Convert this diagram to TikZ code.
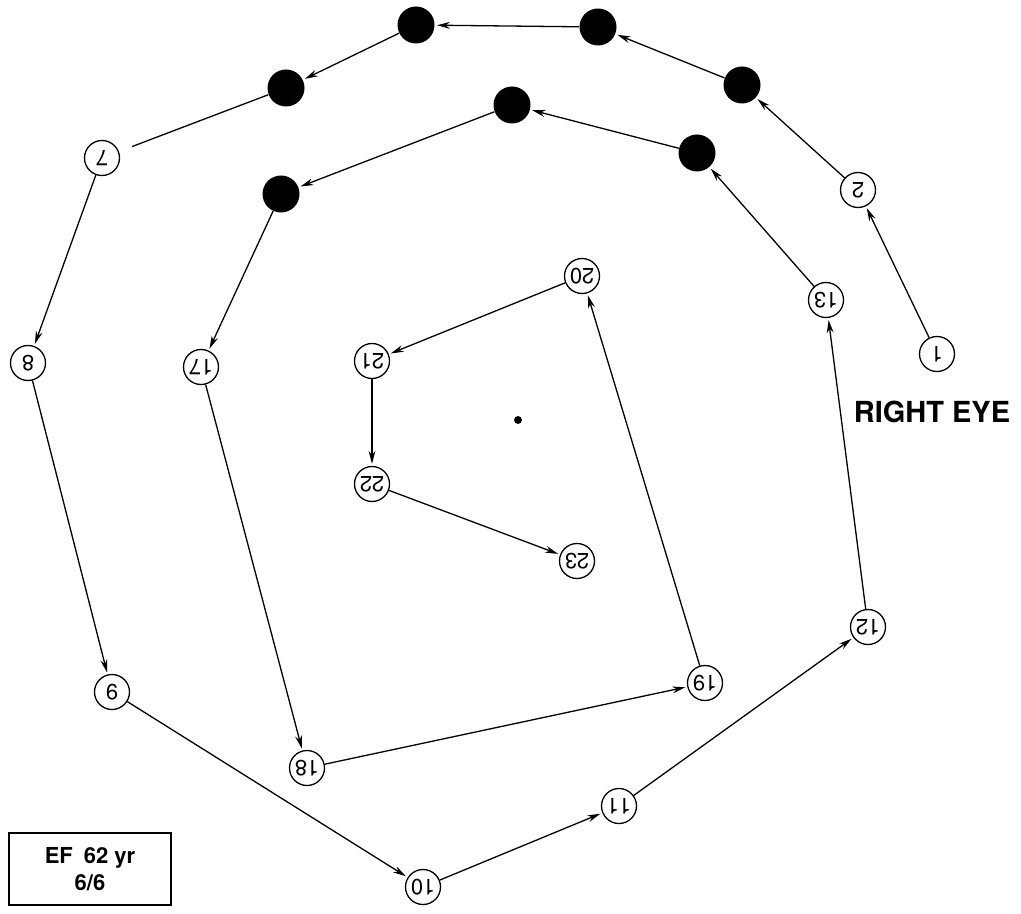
\documentclass[tikz,border=0pt]{standalone}
\usepackage{fontspec}
\setmainfont{TeX Gyre Heros}
\usetikzlibrary{arrows.meta}
\begin{document}
\begin{tikzpicture}[x=0.5pt, y=-0.5pt, >={Stealth[length=6.5pt,width=3.4pt]},
  pt/.style={circle, draw, line width=0.65pt, minimum size=17.5pt, inner sep=0pt,
    font=\fontsize{11}{12}\selectfont, rotate=180},
  spot/.style={circle, fill=black, minimum size=18.5pt, inner sep=0pt},
  link/.style={->, line width=0.65pt, shorten >=1pt}]
  \useasboundingbox (0,0) rectangle (1021,914);
  % 外側の輪
  \node[pt] (p1) at (937,354) {1};
  \node[pt] (p2) at (858,190) {2};
  \node[spot] (p3) at (742,85) {};
  \node[spot] (p4) at (598,27) {};
  \node[spot] (p5) at (416,25) {};
  \node[spot] (p6) at (286,88) {};
  \node[pt] (p7) at (102,158) {7};
  \node[pt] (p8) at (28,363) {8};
  \node[pt] (p9) at (112,692) {9};
  \node[pt] (p10) at (423,887) {10};
  \node[pt] (p11) at (619,806) {11};
  \node[pt] (p12) at (868,627) {12};
  \node[pt] (p13) at (826,300) {13};
  % 内側の輪
  \node[spot] (p14) at (697,153) {};
  \node[spot] (p15) at (512,105) {};
  \node[spot] (p16) at (281,194) {};
  \node[pt] (p17) at (201,367) {17};
  \node[pt] (p18) at (307,768) {18};
  \node[pt] (p19) at (705,683) {19};
  \node[pt] (p20) at (582,276) {20};
  \node[pt] (p21) at (372,361) {21};
  \node[pt] (p22) at (372,484) {22};
  \node[pt] (p23) at (577,561) {23};
  % 固視点
  \node[circle, fill=black, inner sep=1.4pt] (fix) at (518,420) {};
  \draw[link] (p1) -- (p2);
  \draw[link] (p2) -- (p3);
  \draw[link] (p3) -- (p4);
  \draw[link] (p4) -- (p5);
  \draw[link] (p5) -- (p6);
  \draw[line width=0.65pt, shorten >=7pt] (p6) -- (p7);
  \draw[link] (p7) -- (p8);
  \draw[link] (p8) -- (p9);
  \draw[link] (p9) -- (p10);
  \draw[link] (p10) -- (p11);
  \draw[link] (p11) -- (p12);
  \draw[link] (p12) -- (p13);
  \draw[link] (p13) -- (p14);
  \draw[link] (p14) -- (p15);
  \draw[link] (p15) -- (p16);
  \draw[link] (p16) -- (p17);
  \draw[link] (p17) -- (p18);
  \draw[link] (p18) -- (p19);
  \draw[link] (p19) -- (p20);
  \draw[link] (p20) -- (p21);
  \draw[link] (p21) -- (p22);
  \draw[link] (p22) -- (p23);
  \node[font=\fontsize{14.5}{16}\selectfont\bfseries] (eye) at (932,412) {RIGHT EYE};
  \node[draw, line width=0.8pt, minimum width=81pt, minimum height=36pt, align=center,
    font=\fontsize{11}{13.5}\selectfont\bfseries] (info) at (90,869) {EF\enspace 62 yr\\6/6};
\end{tikzpicture}
\end{document}
